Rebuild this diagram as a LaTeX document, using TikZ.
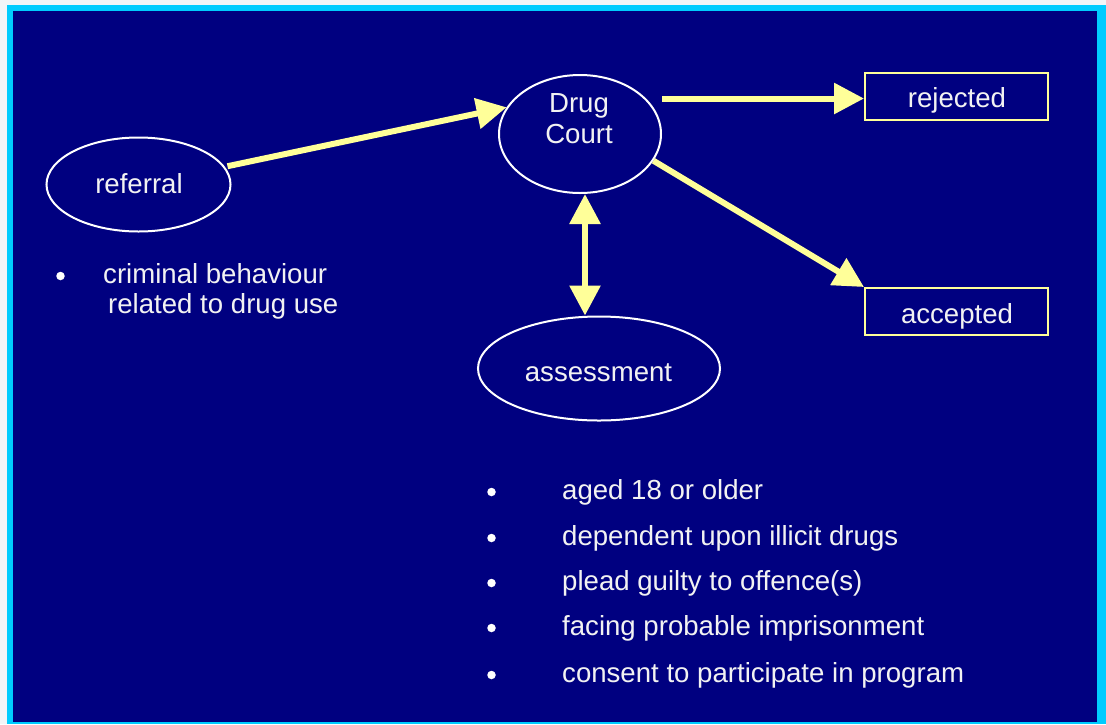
\documentclass[tikz,border=0pt]{standalone}
\usepackage{fontspec}
\setmainfont{Liberation Sans}
\usetikzlibrary{arrows.meta,calc,shapes.geometric}
\definecolor{navy}{HTML}{000080}
\definecolor{cyanb}{HTML}{00CCFF}
\definecolor{yel}{HTML}{FFFF99}
\definecolor{pagebg}{HTML}{F2F5F8}
\definecolor{txtc}{HTML}{F2F2F2}
\begin{document}
\begin{tikzpicture}[x=1pt,y=-1pt,
 txt/.style={text=txtc,inner sep=0pt,font=\fontsize{27.6}{30}\selectfont},
 oval/.style={draw=white,line width=2pt,ellipse,inner sep=0pt},
 outbox/.style={draw=yel,line width=2pt,rectangle,inner sep=0pt,minimum width=183pt,minimum height=47pt},
 flow/.style={draw=yel,line width=6pt,-{Triangle[length=30pt,width=30pt]}},
 dflow/.style={draw=yel,line width=6pt,{Triangle[length=30pt,width=30pt]}-{Triangle[length=30pt,width=30pt]}},
 bul/.style={circle,fill=white,inner sep=0pt,minimum size=8.5pt}]
\useasboundingbox (0,0) rectangle (1106,724);
\fill[pagebg] (0,0) rectangle (1106,724);
\fill[cyanb] (7,5) rectangle (1106,724);
\fill[navy] (13,11) rectangle (1097,722);

% shapes
\node[oval,minimum width=184pt,minimum height=94pt] (referral) at (138.5,184.5) {};
\node[oval,minimum width=162pt,minimum height=118pt] (drug) at (580,134) {};
\node[oval,minimum width=242pt,minimum height=104pt] (assess) at (599,368.5) {};
\node[outbox] (rejected) at (956.5,96.5) {};
\node[outbox] (accepted) at (956.5,311.5) {};

% labels
\node[txt,anchor=base] (referralt) at (139,193) {referral};
\node[txt,anchor=base] (drugt1) at (579,112) {Drug};
\node[txt,anchor=base] (drugt2) at (579,143) {Court};
\node[txt,anchor=base] (assesst) at (598.5,381) {assessment};
\node[txt,anchor=base] (rejectedt) at (957,107) {rejected};
\node[txt,anchor=base] (acceptedt) at (957,323) {accepted};

% connectors
\draw[flow] ([xshift=3pt]referral.12) -- (drug.160);
\draw[flow] ([yshift=-2pt]drug.east |- rejected.west) -- ([yshift=-2pt]rejected.west);
\draw[flow] (drug.-20) -- (accepted.north west);
\draw[dflow] ([xshift=5pt]drug.south) -- ([xshift=5pt]drug.south |- assess.north);

% bullet texts
\node[bul] (b0) at (60.5,276) {};
\node[txt,anchor=base west] (l0a) at (103,283) {criminal behaviour};
\node[txt,anchor=base west] (l0b) at (108,313) {related to drug use};

\node[bul] (b1) at (491.5,492) {};
\node[txt,anchor=base west] (l1) at (562,499) {aged 18 or older};
\node[bul] (b2) at (491.5,538) {};
\node[txt,anchor=base west] (l2) at (562,545) {dependent upon illicit drugs};
\node[bul] (b3) at (491.5,583) {};
\node[txt,anchor=base west] (l3) at (562,590) {plead guilty to offence(s)};
\node[bul] (b4) at (491.5,628) {};
\node[txt,anchor=base west] (l4) at (562,635) {facing probable imprisonment};
\node[bul] (b5) at (491.5,675) {};
\node[txt,anchor=base west] (l5) at (562,682) {consent to participate in program};
\end{tikzpicture}
\end{document}
